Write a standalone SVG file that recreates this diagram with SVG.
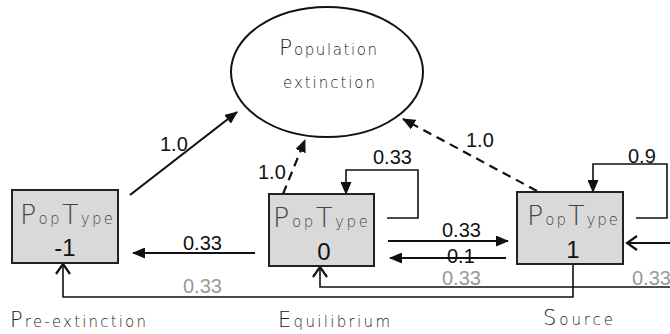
<svg xmlns="http://www.w3.org/2000/svg" width="670" height="334" viewBox="0 0 670 334">
<style>
.box{fill:#d9d9d9;stroke:#222;stroke-width:2}
.pt{font-family:"DejaVu Sans",sans-serif;font-weight:200;fill:#444}
.big{font-size:27px}
.sm{font-size:15px}
.num{font-family:"Liberation Sans",Arial,sans-serif;font-size:24px;fill:#111;text-anchor:middle}
.lab{font-family:"Liberation Sans",Arial,sans-serif;font-size:20px;fill:#111}
.glab{font-family:"Liberation Sans",Arial,sans-serif;font-size:20px;fill:#999}
.cap{font-family:"DejaVu Sans",sans-serif;font-weight:200;fill:#222}
.ln{fill:none;stroke:#111;stroke-width:2.2}
.thin{fill:none;stroke:#111;stroke-width:1.6}
.dash{stroke-dasharray:9 6}
</style>
<defs>
<marker id="arr" markerUnits="userSpaceOnUse" markerWidth="13" markerHeight="11" refX="12" refY="5.5" orient="auto">
<path d="M0,0 L13,5.5 L0,11 z" fill="#111"/>
</marker>
<marker id="chev" markerUnits="userSpaceOnUse" markerWidth="14" markerHeight="16" refX="11" refY="8" orient="auto">
<path d="M1,1 L11,8 L1,15" fill="none" stroke="#111" stroke-width="2.2"/>
</marker>
</defs>
<rect width="670" height="334" fill="#fff"/>
<g id="connectors">
<path class="ln" d="M130,195 L237,112" marker-end="url(#arr)"/>
<path class="ln dash" d="M283,194 L305,140" marker-end="url(#arr)"/>
<path class="ln dash" d="M537,191 L403,119" marker-end="url(#arr)"/>
<path class="thin" d="M387,218 H418 V170 H346 V194" marker-end="url(#arr)"/>
<path class="thin" d="M636,218 H667 V164 H593 V192" marker-end="url(#arr)"/>
<path class="ln" d="M670,243 H627" marker-end="url(#chev)"/>
<path class="ln" d="M255,253 H133" marker-end="url(#arr)"/>
<path class="ln" d="M388,241 H508" marker-end="url(#arr)"/>
<path class="ln" d="M506,258 H390" marker-end="url(#arr)"/>
<path class="thin" d="M573,264 V297 H63 V264" marker-end="url(#chev)"/>
<path class="thin" d="M670,287 H320 V267" marker-end="url(#chev)"/>
<text class="lab" x="160" y="151">1.0</text>
<text class="lab" x="258" y="179">1.0</text>
<text class="lab" x="466" y="147">1.0</text>
<text class="lab" x="373" y="164">0.33</text>
<text class="lab" x="628" y="163">0.9</text>
<text class="lab" x="183" y="250">0.33</text>
<text class="lab" x="442" y="237">0.33</text>
<text class="lab" x="447" y="263">0.1</text>
<text class="glab" x="183" y="293">0.33</text>
<text class="glab" x="442" y="285">0.33</text>
<text class="glab" x="632" y="285">0.33</text>
</g>
<g id="extinction">
<ellipse cx="327" cy="72" rx="96" ry="65" fill="#fff" stroke="#111" stroke-width="2"/>
<text class="cap" x="279" y="55" textLength="98" lengthAdjust="spacing"><tspan font-size="22">P</tspan><tspan font-size="15">opulation</tspan></text>
<text class="cap" x="283" y="88" font-size="15" textLength="92" lengthAdjust="spacing">extinction</text>
</g>
<g id="pre-extinction">
<rect class="box" x="12" y="190" width="106" height="73"/>
<text class="pt" x="20" y="224" textLength="93" lengthAdjust="spacing"><tspan class="big">P</tspan><tspan class="sm">op</tspan><tspan class="big">T</tspan><tspan class="sm">ype</tspan></text>
<text class="num" x="65" y="256">-1</text>
<text class="cap" x="10" y="327" textLength="136" lengthAdjust="spacing"><tspan font-size="21">P</tspan><tspan font-size="15">re-extinction</tspan></text>
</g>
<g id="equilibrium">
<rect class="box" x="269" y="194" width="105" height="72"/>
<text class="pt" x="273" y="227" textLength="95" lengthAdjust="spacing"><tspan class="big">P</tspan><tspan class="sm">op</tspan><tspan class="big">T</tspan><tspan class="sm">ype</tspan></text>
<text class="num" x="324" y="260">0</text>
<text class="cap" x="278" y="327" textLength="112" lengthAdjust="spacing"><tspan font-size="21">E</tspan><tspan font-size="15">quilibrium</tspan></text>
</g>
<g id="source">
<rect class="box" x="517" y="192" width="106" height="72"/>
<text class="pt" x="527" y="225" textLength="91" lengthAdjust="spacing"><tspan class="big">P</tspan><tspan class="sm">op</tspan><tspan class="big">T</tspan><tspan class="sm">ype</tspan></text>
<text class="num" x="573" y="258">1</text>
<text class="cap" x="543" y="325" textLength="70" lengthAdjust="spacing"><tspan font-size="21">S</tspan><tspan font-size="15">ource</tspan></text>
</g>
</svg>
